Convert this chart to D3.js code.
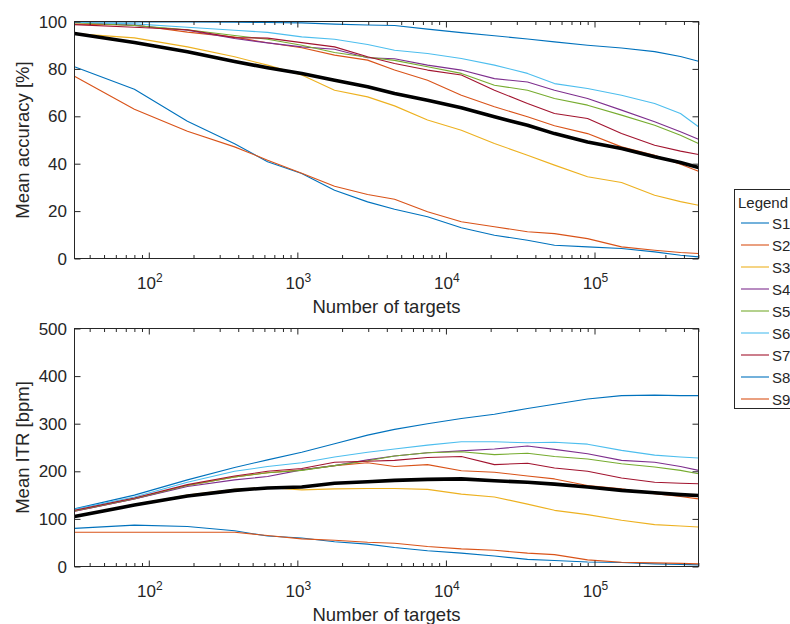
<!DOCTYPE html>
<html><head><meta charset="utf-8">
<script src="https://cdn.jsdelivr.net/npm/d3@7"></script>
<style>
body{margin:0;background:#fff;}
text{font-family:"Liberation Sans",Arial,Helvetica,sans-serif;fill:#262626;}
</style>
</head><body><svg id="c" width="790" height="624"></svg>
<script>
// ---------- DATA ----------
const targets = [31.6, 80, 182, 378, 630, 1070, 1780, 2970, 4510, 7520, 12700, 21200, 35400, 53800, 89800, 152000, 254000, 379000, 501000];
const seriesNames = ["S1","S2","S3","S4","S5","S6","S7","S8","S9"];
const seriesColors = ["#0072BD","#D95319","#EDB120","#7E2F8E","#77AC30","#4DBEEE","#A2142F","#0072BD","#D95319"];

const accS1 = [99.8, 99.8, 99.8, 99.7, 99.6, 99.4, 98.9, 98.5, 98.3, 96.8, 95.3, 94.0, 92.6, 91.4, 90.0, 88.8, 87.3, 85.2, 83.2];
const accS2 = [98.9, 98.5, 95.5, 93.4, 91.0, 88.9, 85.8, 83.7, 79.5, 75.2, 68.9, 64.0, 59.8, 56.0, 52.7, 47.1, 43.6, 39.8, 36.8];
const accS3 = [94.9, 93.1, 89.3, 85.1, 81.6, 77.4, 71.0, 68.2, 64.4, 58.4, 54.1, 48.5, 43.6, 39.4, 34.5, 32.1, 26.7, 24.0, 22.5];
const accS4 = [99.8, 98.3, 96.3, 92.8, 91.0, 89.3, 88.3, 84.7, 84.3, 81.6, 79.5, 75.9, 74.5, 71.0, 67.5, 62.6, 57.7, 53.5, 50.3];
const accS5 = [99.5, 98.3, 96.5, 94.1, 92.5, 90.0, 86.9, 84.9, 83.6, 80.9, 78.1, 73.1, 71.0, 67.5, 64.7, 60.5, 56.2, 52.0, 48.5];
const accS6 = [99.7, 99.0, 97.6, 96.3, 95.4, 93.5, 92.5, 90.3, 87.9, 86.5, 84.4, 81.6, 78.1, 73.8, 71.7, 68.9, 65.4, 61.2, 55.6];
const accS7 = [98.7, 97.6, 96.5, 93.2, 93.0, 91.1, 89.3, 85.1, 82.3, 79.5, 77.4, 71.0, 65.4, 61.2, 59.1, 52.7, 47.8, 45.3, 43.9];
const accS8 = [80.9, 71.4, 57.9, 48.4, 40.8, 35.9, 28.8, 23.9, 20.8, 17.6, 13.0, 9.8, 7.7, 5.6, 4.9, 4.2, 2.8, 1.4, 0.7];
const accS9 = [76.9, 63.0, 53.7, 47.1, 41.5, 36.0, 30.5, 27.0, 25.0, 19.7, 15.5, 13.4, 11.3, 10.5, 8.4, 4.9, 3.5, 2.5, 2.1];
const accMean = [94.9, 91.1, 87.2, 83.1, 80.5, 78.1, 75.2, 72.5, 69.6, 66.8, 63.6, 59.8, 56.2, 52.7, 49.2, 46.4, 42.9, 40.5, 38.4];

const itrS1 = [121, 150, 182, 208, 224, 240, 258, 276, 288, 300, 311, 320, 332, 341, 352, 359, 360, 359, 359];
const itrS2 = [116, 142, 170, 188, 197, 203, 212, 218, 210, 214, 201, 198, 190, 184, 170, 163, 153, 147, 142];
const itrS3 = [105, 130, 150, 162, 166, 161, 163, 164, 164, 162, 152, 146, 131, 118, 109, 97, 88, 85, 83];
const itrS4 = [116, 142, 168, 182, 189, 203, 212, 224, 232, 239, 243, 247, 253, 246, 237, 223, 219, 210, 202];
const itrS5 = [117, 143, 170, 188, 197, 202, 212, 222, 232, 239, 241, 235, 238, 231, 226, 216, 209, 202, 195];
const itrS6 = [120, 146, 177, 200, 210, 218, 230, 240, 247, 255, 262, 262, 260, 261, 257, 244, 234, 230, 228];
const itrS7 = [118, 144, 172, 190, 200, 206, 219, 221, 223, 229, 231, 214, 217, 207, 200, 186, 177, 175, 174];
const itrS8 = [80, 87, 84, 75, 64, 60, 52, 47, 40, 33, 28, 22, 15, 12.5, 9.5, 8.4, 5.6, 4.5, 3.5];
const itrS9 = [72, 72, 72, 72, 65, 58, 55, 51, 49, 42, 37, 34, 28, 25, 14, 9, 7.7, 6.5, 5.6];
const itrMean = [105, 129, 148, 160, 165, 167, 175, 178, 181, 183, 184, 180, 177, 173, 167, 160, 155, 151, 149];

const xTickExps = [2, 3, 4, 5];
const accTicks = [0, 20, 40, 60, 80, 100];
const itrTicks = [0, 100, 200, 300, 400, 500];
const xLabel = "Number of targets";
const accLabel = "Mean accuracy [%]";
const itrLabel = "Mean ITR [bpm]";
const legendTitle = "Legend";

// ---------- DRAW ----------
const svg = d3.select('#c');
svg.append('rect').attr('width',790).attr('height',624).attr('fill','#fff');
const L = 74.5, R = 698.5;
const x = d3.scaleLog().domain([Math.pow(10,1.5), Math.pow(10,5.7)]).range([L, R]);
const majors = xTickExps.map(e => Math.pow(10, e));
const minors = [];
for (let e = 1; e <= 5; e++) for (let m = 2; m <= 9; m++) {
  const v = m * Math.pow(10, e);
  if (v >= x.domain()[0] && v <= x.domain()[1]) minors.push(v);
}
const axisColor = "#262626";

function panel(top, bottom, yDomain, yTicks, seriesVals, meanVals, ylabel, clipId) {
  const y = d3.scaleLinear().domain(yDomain).range([bottom, top]);
  const g = svg.append('g');
  svg.append('clipPath').attr('id', clipId).append('rect')
    .attr('x', L).attr('y', top).attr('width', R - L).attr('height', bottom - top);
  const plot = g.append('g').attr('clip-path', `url(#${clipId})`);
  const line = d3.line().x((d, i) => x(targets[i])).y(d => y(d));
  seriesVals.forEach((vals, k) => {
    plot.append('path').attr('d', line(vals)).attr('fill', 'none')
      .attr('stroke', seriesColors[k]).attr('stroke-width', 1.1).attr('stroke-linejoin', 'round');
  });
  plot.append('path').attr('d', line(meanVals)).attr('fill', 'none')
    .attr('stroke', '#000').attr('stroke-width', 3.6).attr('stroke-linejoin', 'round');

  // ticks (inward) on all four sides
  const mk = (axisFn, scale, vals, size, transform) => {
    const a = g.append('g').attr('transform', transform)
      .call(axisFn(scale).tickValues(vals).tickSizeInner(size).tickSizeOuter(0).tickFormat(''));
    a.select('.domain').remove();
    a.selectAll('line').attr('stroke', axisColor).attr('stroke-width', 1);
  };
  mk(d3.axisBottom, x, majors, -6, `translate(0,${bottom})`);
  mk(d3.axisBottom, x, minors, -3.5, `translate(0,${bottom})`);
  mk(d3.axisTop, x, majors, -6, `translate(0,${top})`);
  mk(d3.axisTop, x, minors, -3.5, `translate(0,${top})`);
  mk(d3.axisLeft, y, yTicks, -6, `translate(${L},0)`);
  mk(d3.axisRight, y, yTicks, -6, `translate(${R},0)`);

  g.append('rect').attr('x', L).attr('y', top).attr('width', R - L).attr('height', bottom - top)
    .attr('fill', 'none').attr('stroke', axisColor).attr('stroke-width', 1);

  // y tick labels
  g.selectAll(null).data(yTicks).enter().append('text')
    .attr('x', 67).attr('y', d => y(d)).attr('dy', '0.36em')
    .attr('text-anchor', 'end').style('font-size', '17px').text(d => d);
  // x tick labels 10^k
  xTickExps.forEach(e => {
    const t = g.append('text').attr('x', x(Math.pow(10, e)) + 1).attr('y', bottom + 30)
      .attr('text-anchor', 'middle').style('font-size', '17px');
    t.append('tspan').text('10');
    t.append('tspan').attr('dy', -7).style('font-size', '12px').text(e);
  });
  // axis labels
  g.append('text').attr('x', (L + R) / 2).attr('y', bottom + 54).attr('text-anchor', 'middle')
    .style('font-size', '18.5px').text(xLabel);
  g.append('text').attr('transform', `translate(29,${(top + bottom) / 2}) rotate(-90)`)
    .attr('text-anchor', 'middle').style('font-size', '18.5px').text(ylabel);
}

panel(21.5, 258.5, [0, 100], accTicks,
  [accS1, accS2, accS3, accS4, accS5, accS6, accS7, accS8, accS9], accMean, accLabel, 'clipA');
panel(328.5, 566.5, [0, 500], itrTicks,
  [itrS1, itrS2, itrS3, itrS4, itrS5, itrS6, itrS7, itrS8, itrS9], itrMean, itrLabel, 'clipB');

// legend
const lg = svg.append('g');
lg.append('rect').attr('x', 734.5).attr('y', 189.5).attr('width', 120).attr('height', 219)
  .attr('fill', '#fff').attr('stroke', axisColor).attr('stroke-width', 1);
lg.append('text').attr('x', 738).attr('y', 208).style('font-size', '15px').text(legendTitle);
seriesNames.forEach((name, i) => {
  const yy = 223 + i * 22;
  lg.append('line').attr('x1', 741).attr('x2', 769).attr('y1', yy).attr('y2', yy)
    .attr('stroke', seriesColors[i]).attr('stroke-width', 1.1);
  lg.append('text').attr('x', 772).attr('y', yy + 5.5).style('font-size', '15px').text(name);
});
</script>
</body></html>
